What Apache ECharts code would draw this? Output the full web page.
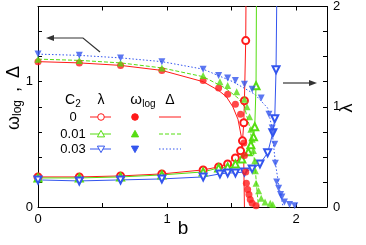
<!DOCTYPE html>
<html><head><meta charset="utf-8">
<script src="https://cdn.jsdelivr.net/npm/echarts@6/dist/echarts.min.js"></script>
<style>html,body{margin:0;padding:0;background:#fff}#c{width:366px;height:245px}</style>
</head><body><div id="c"></div>
<script>
// ---- data ----
const c2Labels = ['0', '0.01', '0.03'];
const xTickLabels = ['0', '1', '2'];
const yLeftTickLabels = ['0', '1'];
const yRightTickLabels = ['0', '1', '2'];

// C2 = 0
const bLam0 = [0, 0.32, 0.64, 0.96, 1.28, 1.40, 1.47, 1.53, 1.57, 1.585, 1.595, 1.60, 1.61, 1.615];
const lam0  = [0.30, 0.30, 0.31, 0.33, 0.37, 0.40, 0.43, 0.49, 0.56, 0.66, 0.84, 1.06, 1.66, 2.6];
const bOm0  = [0, 0.32, 0.64, 0.96, 1.28, 1.40, 1.47, 1.53, 1.57, 1.595, 1.60, 1.61, 1.615, 1.625, 1.635, 1.645, 1.66, 1.69];
const om0   = [1.16, 1.15, 1.13, 1.09, 1.01, 0.95, 0.90, 0.82, 0.74, 0.51, 0.41, 0.28, 0.19, 0.14, 0.10, 0.06, 0.03, 0.01];
const bDel0 = [0, 0.32, 0.64, 0.96, 1.28, 1.40, 1.46, 1.51, 1.55, 1.58, 1.595, 1.60];
const del0  = [1.16, 1.15, 1.13, 1.09, 1.00, 0.93, 0.88, 0.80, 0.70, 0.54, 0.35, 0];

// C2 = 0.01
const bLam1 = [0, 0.32, 0.64, 0.96, 1.28, 1.40, 1.47, 1.53, 1.58, 1.63, 1.65, 1.67, 1.68, 1.69, 1.695];
const lam1  = [0.29, 0.29, 0.30, 0.32, 0.35, 0.39, 0.40, 0.43, 0.48, 0.55, 0.62, 0.70, 0.80, 1.21, 2.6];
const bOm1  = [0, 0.32, 0.64, 0.96, 1.28, 1.41, 1.47, 1.54, 1.60, 1.62, 1.64, 1.65, 1.66, 1.67, 1.68, 1.685, 1.69, 1.71, 1.73, 1.76, 1.80, 1.82];
const om1   = [1.18, 1.17, 1.15, 1.11, 1.05, 1.00, 0.97, 0.92, 0.86, 0.80, 0.72, 0.62, 0.54, 0.45, 0.37, 0.29, 0.19, 0.13, 0.07, 0.04, 0.03, 0.02];
const bDel1 = [0, 0.32, 0.64, 0.96, 1.28, 1.45, 1.55, 1.60, 1.64, 1.66, 1.68, 1.70, 1.71];
const del1  = [1.18, 1.17, 1.15, 1.11, 1.04, 0.95, 0.87, 0.80, 0.64, 0.52, 0.35, 0.10, 0];

// C2 = 0.03
const bLam3 = [0, 0.32, 0.64, 0.96, 1.28, 1.41, 1.47, 1.53, 1.60, 1.66, 1.72, 1.78, 1.82, 1.835, 1.845, 1.855];
const lam3  = [0.27, 0.26, 0.27, 0.28, 0.30, 0.33, 0.34, 0.34, 0.35, 0.38, 0.43, 0.54, 0.74, 0.88, 1.37, 2.6];
const bOm3  = [0, 0.32, 0.64, 0.96, 1.28, 1.40, 1.47, 1.53, 1.60, 1.66, 1.73, 1.79, 1.815, 1.82, 1.835, 1.84, 1.85, 1.865, 1.88, 1.89, 1.91, 1.95, 1.99];
const om3   = [1.22, 1.21, 1.19, 1.16, 1.10, 1.05, 1.03, 1.01, 0.98, 0.94, 0.87, 0.74, 0.63, 0.59, 0.50, 0.35, 0.20, 0.15, 0.10, 0.08, 0.04, 0.02, 0.01];
const bDel3 = [0, 0.32, 0.64, 0.96, 1.28, 1.51, 1.68, 1.78, 1.81, 1.84, 1.87, 1.90];
const del3  = [1.22, 1.21, 1.19, 1.16, 1.10, 1.00, 0.90, 0.79, 0.65, 0.35, 0.15, 0];

// ---- styling ----
const RED = '#ff1a1a', GREEN = '#55dd11', BLUE = '#3355ee';
const FONT = 'Liberation Sans, Arial, sans-serif';
const zip = (a, b) => a.map((v, i) => [v, b[i]]);

const lamSeries = (name, b, l, color, sym, rot) => ({
  name, type: 'line', xAxisIndex: 0, yAxisIndex: 1, data: zip(b, l),
  symbol: sym, symbolSize: 7, symbolRotate: rot || 0, showAllSymbol: true,
  itemStyle: { color: color, borderColor: color, borderWidth: 1 },
  lineStyle: { color, width: 1 }, clip: true, z: 3, animation: false
});
const omSeries = (name, b, o, color, sym, rot) => ({
  name, type: 'scatter', xAxisIndex: 0, yAxisIndex: 0, data: zip(b, o),
  symbol: sym, symbolSize: 7, symbolRotate: rot || 0,
  itemStyle: { color }, z: 4, animation: false
});
const delSeries = (name, b, d, color, dash) => ({
  name, type: 'line', xAxisIndex: 0, yAxisIndex: 0, data: zip(b, d),
  symbol: 'none', lineStyle: { color, width: 1, type: dash }, z: 2, animation: false
});

const axisBase = {
  axisLine: { show: true, onZero: false, lineStyle: { color: '#000', width: 1 } },
  axisTick: { show: true, inside: true, length: 4, lineStyle: { color: '#000' } },
  splitLine: { show: false },
  axisLabel: { color: '#000', fontFamily: FONT, fontSize: 13 }
};
const near = (v, arr) => arr.some(s => Math.abs(v - Number(s)) < 1e-6);

// legend graphics
const g = [];
const txt = (text, x, y, size, extra) => Object.assign({
  type: 'text', x, y, silent: true,
  style: { text, fill: '#000', font: size + 'px ' + FONT, align: 'center', verticalAlign: 'middle' }
}, extra || {});
g.push(txt('C', 70, 100, 14));
g.push(txt('2', 78, 104, 10));
g.push(txt('λ', 101, 100, 14));
g.push(txt('ω', 136, 100, 15));
g.push(txt('log', 149, 104, 10));
g.push(txt('Δ', 170, 100, 14));
const rowY = [117, 134, 149];
const rowColors = [RED, GREEN, BLUE];
const rowDash = ['solid', [4, 2], [1.5, 2]];
function markerShape(i, cx, cy, filled, color) {
  const style = filled ? { fill: color, stroke: color, lineWidth: 1 } : { fill: '#fff', stroke: color, lineWidth: 1 };
  if (i === 0) return { type: 'circle', shape: { cx, cy, r: 3.3 }, style, silent: true, z: 5 };
  const s = 3.6;
  const pts = i === 1
    ? [[cx, cy - s], [cx + s, cy + s * 0.8], [cx - s, cy + s * 0.8]]
    : [[cx, cy + s], [cx + s, cy - s * 0.8], [cx - s, cy - s * 0.8]];
  return { type: 'polygon', shape: { points: pts }, style, silent: true, z: 5 };
}
c2Labels.forEach((lab, i) => {
  const y = rowY[i], col = rowColors[i];
  g.push(txt(lab, 73, y, 13));
  g.push({ type: 'line', shape: { x1: 90, y1: y, x2: 111, y2: y }, style: { stroke: col, lineWidth: 1 }, silent: true });
  g.push(markerShape(i, 101, y, false, col));
  g.push(markerShape(i, 135, y, true, col));
  g.push({ type: 'line', shape: { x1: 159, y1: y, x2: 181, y2: y }, style: { stroke: col, lineWidth: 1, lineDash: rowDash[i] === 'solid' ? null : rowDash[i] }, silent: true });
});
// arrows
const AC = '#333';
g.push({ type: 'polyline', shape: { points: [[100, 52], [83, 38], [52, 38]] }, style: { stroke: AC, lineWidth: 1.2, fill: null }, silent: true });
g.push({ type: 'polygon', shape: { points: [[46, 38], [54, 35], [54, 41]] }, style: { fill: AC }, silent: true });
g.push({ type: 'line', shape: { x1: 283, y1: 83, x2: 311, y2: 83 }, style: { stroke: AC, lineWidth: 1.2 }, silent: true });
g.push({ type: 'polygon', shape: { points: [[317, 83], [309, 80], [309, 86]] }, style: { fill: AC }, silent: true });
// axis titles
g.push(txt('b', 183, 229, 19));
g.push({
  type: 'group', x: 14, y: 96, rotation: Math.PI / 2, silent: true,
  children: [
    { type: 'text', x: -34, y: 0, style: { text: 'ω', fill: '#000', font: '18px ' + FONT, align: 'left', verticalAlign: 'middle' } },
    { type: 'text', x: -20, y: 4, style: { text: 'log', fill: '#000', font: '12px ' + FONT, align: 'left', verticalAlign: 'middle' } },
    { type: 'text', x: 4, y: 0, style: { text: ',', fill: '#000', font: '18px ' + FONT, align: 'left', verticalAlign: 'middle' } },
    { type: 'text', x: 18, y: 0, style: { text: 'Δ', fill: '#000', font: '18px ' + FONT, align: 'left', verticalAlign: 'middle' } }
  ]
});
g.push(txt('λ', 347, 108, 18, { rotation: Math.PI / 2 }));

const chart = echarts.init(document.getElementById('c'), null, { renderer: 'canvas' });
chart.setOption({
  animation: false,
  backgroundColor: '#fff',
  grid: { left: 38, top: 6, right: 39, bottom: 38, containLabel: false },
  xAxis: [
    Object.assign({}, axisBase, { type: 'value', position: 'bottom', min: 0, max: 2.24, interval: 0.5,
      axisLabel: Object.assign({}, axisBase.axisLabel, { margin: 6, showMaxLabel: false,
        formatter: v => near(v, xTickLabels) ? String(Math.round(v)) : '' }) }),
    Object.assign({}, axisBase, { type: 'value', position: 'top', min: 0, max: 2.24, interval: 0.5,
      axisLabel: { show: false } })
  ],
  yAxis: [
    Object.assign({}, axisBase, { type: 'value', position: 'left', min: 0, max: 1.6, interval: 0.2,
      axisLabel: Object.assign({}, axisBase.axisLabel, { margin: 5,
        formatter: v => near(v, yLeftTickLabels) ? String(Math.round(v)) : '' }) }),
    Object.assign({}, axisBase, { type: 'value', position: 'right', min: 0, max: 2, interval: 0.25,
      axisLabel: Object.assign({}, axisBase.axisLabel, { margin: 6,
        formatter: v => near(v, yRightTickLabels) ? String(Math.round(v)) : '' }) })
  ],
  graphic: g,
  series: [
    delSeries('Δ 0', bDel0, del0, RED, 'solid'),
    delSeries('Δ 0.01', bDel1, del1, GREEN, [4, 2]),
    delSeries('Δ 0.03', bDel3, del3, BLUE, [1.5, 2]),
    lamSeries('λ 0', bLam0, lam0, RED, 'emptyCircle'),
    lamSeries('λ 0.01', bLam1, lam1, GREEN, 'emptyTriangle'),
    lamSeries('λ 0.03', bLam3, lam3, BLUE, 'emptyTriangle', 180),
    omSeries('ω 0', bOm0, om0, RED, 'circle'),
    omSeries('ω 0.01', bOm1, om1, GREEN, 'triangle'),
    omSeries('ω 0.03', bOm3, om3, BLUE, 'triangle', 180)
  ]
});
</script>
</body></html>
